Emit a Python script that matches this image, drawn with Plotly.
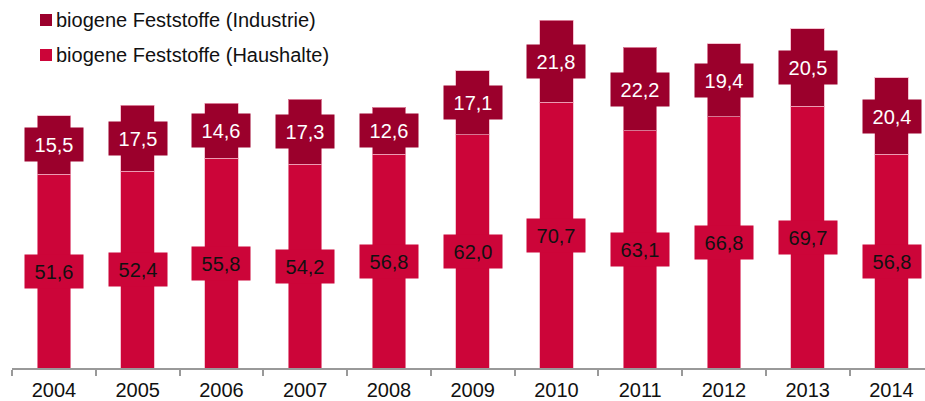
import plotly.graph_objects as go

years = ["2004", "2005", "2006", "2007", "2008", "2009", "2010", "2011", "2012", "2013", "2014"]
haushalte = [51.6, 52.4, 55.8, 54.2, 56.8, 62.0, 70.7, 63.1, 66.8, 69.7, 56.8]
industrie = [15.5, 17.5, 14.6, 17.3, 12.6, 17.1, 21.8, 22.2, 19.4, 20.5, 20.4]

name_haushalte = "biogene Feststoffe (Haushalte)"
name_industrie = "biogene Feststoffe (Industrie)"

col_haushalte = "#CC0539"
col_industrie = "#9B002C"
font_family = "Liberation Sans, Arial, sans-serif"

W, H = 925, 401
M_L, M_R, M_T, M_B = 12, 0, 0, 33
PLOT_W = W - M_L - M_R
PLOT_H = H - M_T - M_B


def px_x(px):
    return (px - M_L) / PLOT_W


def px_y(py):
    return 1 - (py - M_T) / PLOT_H


def de(v):
    return f"{v:.1f}".replace(".", ",")


edge = dict(color="rgba(240,170,190,0.7)", width=1)
fig = go.Figure()
fig.add_trace(go.Bar(
    x=years, y=haushalte, name=name_haushalte,
    marker=dict(color=col_haushalte, line=edge), hoverinfo="skip",
))
fig.add_trace(go.Bar(
    x=years, y=industrie, name=name_industrie,
    marker=dict(color=col_industrie, line=edge), hoverinfo="skip",
))

# value boxes centred on each segment (category index as x)
annotations = []
for idx, (h, i) in enumerate(zip(haushalte, industrie)):
    annotations.append(dict(
        x=idx, y=h / 2, xref="x", yref="y", text=de(h), showarrow=False,
        font=dict(family=font_family, size=20, color="#111111"),
        bgcolor=col_haushalte, width=58, height=33, borderpad=0,
    ))
    annotations.append(dict(
        x=idx, y=h + i / 2, xref="x", yref="y", text=de(i), showarrow=False,
        font=dict(family=font_family, size=20, color="#FFFFFF"),
        bgcolor=col_industrie, width=58, height=33, borderpad=0,
    ))

# legend: Industrie on top, Haushalte below
shapes = []
legend_rows = [(name_industrie, col_industrie, 20), (name_haushalte, col_haushalte, 55)]
for name, col, cy in legend_rows:
    shapes.append(dict(
        type="rect", xref="paper", yref="paper",
        x0=px_x(40), x1=px_x(52), y0=px_y(cy + 6), y1=px_y(cy - 6),
        fillcolor=col, line=dict(width=0),
    ))
    annotations.append(dict(
        x=px_x(54), y=px_y(cy), xref="paper", yref="paper", text=name,
        showarrow=False, xanchor="left", yanchor="middle",
        font=dict(family=font_family, size=20, color="#111111"),
    ))

fig.update_layout(
    barmode="stack",
    bargap=0.6,
    width=W, height=H,
    margin=dict(l=M_L, r=M_R, t=M_T, b=M_B),
    paper_bgcolor="white", plot_bgcolor="white",
    font=dict(family=font_family, size=20, color="#111111"),
    showlegend=False,
    annotations=annotations,
    shapes=shapes,
)
fig.update_xaxes(
    type="category", range=[-0.5, 10.4],
    showline=True, linecolor="#999999", linewidth=1.5,
    ticks="outside", tickson="boundaries", ticklen=6, tickcolor="#999999", tickwidth=1.5,
    ticklabelstandoff=3,
    tickfont=dict(family=font_family, size=20, color="#111111"),
    showgrid=False, zeroline=False,
)
fig.update_yaxes(range=[0, 97.9], visible=False, showgrid=False, zeroline=False)

fig.write_html("out.html")
